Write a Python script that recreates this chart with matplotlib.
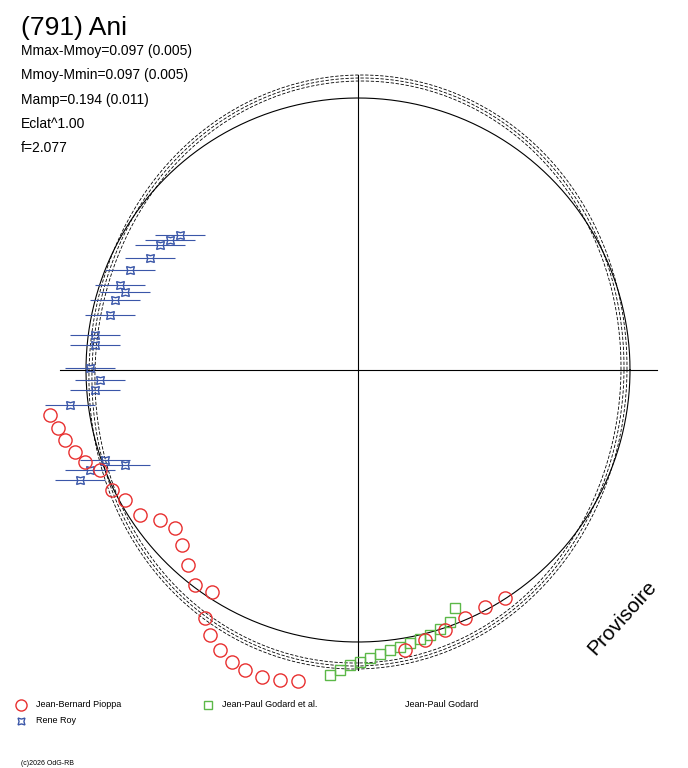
import numpy as np
import matplotlib.pyplot as plt

# offsets from the polar centre (plot units)
pioppa_x = [-308, -300, -293, -283, -273, -258, -246, -233, -218, -198, -183, -176, -170, -163, -146,
            -153, -148, -138, -126, -113, -96, -78, -60, 47, 67, 87, 107, 127, 147]
pioppa_y = [-45, -58, -70, -82, -92, -100, -120, -130, -145, -150, -158, -175, -195, -215, -222,
            -248, -265, -280, -292, -300, -307, -310, -311, -280, -270, -260, -248, -237, -228]
godard_x = [-28, -18, -8, 2, 12, 22, 32, 42, 52, 62, 72, 82, 92, 97]
godard_y = [-305, -300, -295, -292, -288, -284, -280, -277, -273, -269, -265, -259, -252, -238]
roy_x = [-188, -198, -178, -208, -228, -238, -243, -233, -248, -263, -263, -268, -258, -263, -288, -253, -268, -233, -278]
roy_y = [130, 125, 135, 112, 100, 85, 70, 78, 55, 35, 25, 2, -10, -20, -35, -90, -100, -95, -110]

# fourier model of the fitted curve (radius vs angle)
r0 = 280
a2, b2 = -14, 2
a1, b1 = 0, -2

fig = plt.figure(figsize=(6.88, 7.68), dpi=100)
ax = fig.add_axes([0, 0, 1, 1])
ax.set_xlim(-358, 330)
ax.set_ylim(-398, 370)
ax.axis('off')

ax.plot([-298, 299], [0, 0], c='k', lw=0.8)
ax.plot([0, 0], [-300, 295], c='k', lw=0.8)

t = np.linspace(0, 2 * np.pi, 400)
ax.plot(272 * np.cos(t), 272 * np.sin(t), c='k', lw=0.8)
for k in (-3, 0, 3):
    r = r0 + k + a2 * np.cos(2 * t) + b2 * np.sin(2 * t) + a1 * np.cos(t) + b1 * np.sin(t)
    ax.plot(r * np.cos(t), r * np.sin(t), c='k', lw=0.6, ls=(0, (4, 2)))

ax.errorbar(roy_x, roy_y, xerr=25, fmt='none', ecolor='#3a56a8', lw=0.8)
ax.plot(roy_x, roy_y, ls='none', marker=(4, 1, 45), ms=8, mec='#3a56a8', mfc='none')
ax.plot(godard_x, godard_y, ls='none', marker='s', ms=7, mec='#5cb848', mfc='none')
ax.plot(pioppa_x, pioppa_y, ls='none', marker='o', ms=9.5, mec='#e83030', mfc='none')

fig.text(0.03, 0.955, '(791) Ani', fontsize=19, family='Liberation Sans')
info = ['Mmax-Mmoy=0.097 (0.005)', 'Mmoy-Mmin=0.097 (0.005)', 'Mamp=0.194 (0.011)', 'Eclat^1.00', 'f=2.077']
for i, s in enumerate(info):
    fig.text(0.03, 0.928 - i * 0.0315, s, fontsize=10, family='Liberation Sans')
fig.text(0.905, 0.195, 'Provisoire', fontsize=15, rotation=48, ha='center', va='center', family='Liberation Sans')

fig.text(0.053, 0.079, 'Jean-Bernard Pioppa', fontsize=6.5, family='Liberation Sans')
fig.text(0.322, 0.079, 'Jean-Paul Godard et al.', fontsize=6.5, family='Liberation Sans')
fig.text(0.588, 0.079, 'Jean-Paul Godard', fontsize=6.5, family='Liberation Sans')
fig.text(0.053, 0.058, 'Rene Roy', fontsize=6.5, family='Liberation Sans')
for (xf, yf, m, c, s) in [(0.031, 0.082, 'o', '#e83030', 8), (0.302, 0.082, 's', '#5cb848', 6),
                          (0.031, 0.061, (4, 1, 45), '#3a56a8', 7)]:
    fig.add_artist(plt.Line2D([xf], [yf], marker=m, ms=s, mec=c, mfc='none', ls='none', transform=fig.transFigure))
fig.text(0.03, 0.004, '(c)2026 OdG-RB', fontsize=5, family='Liberation Sans')

fig.savefig('out.png')
